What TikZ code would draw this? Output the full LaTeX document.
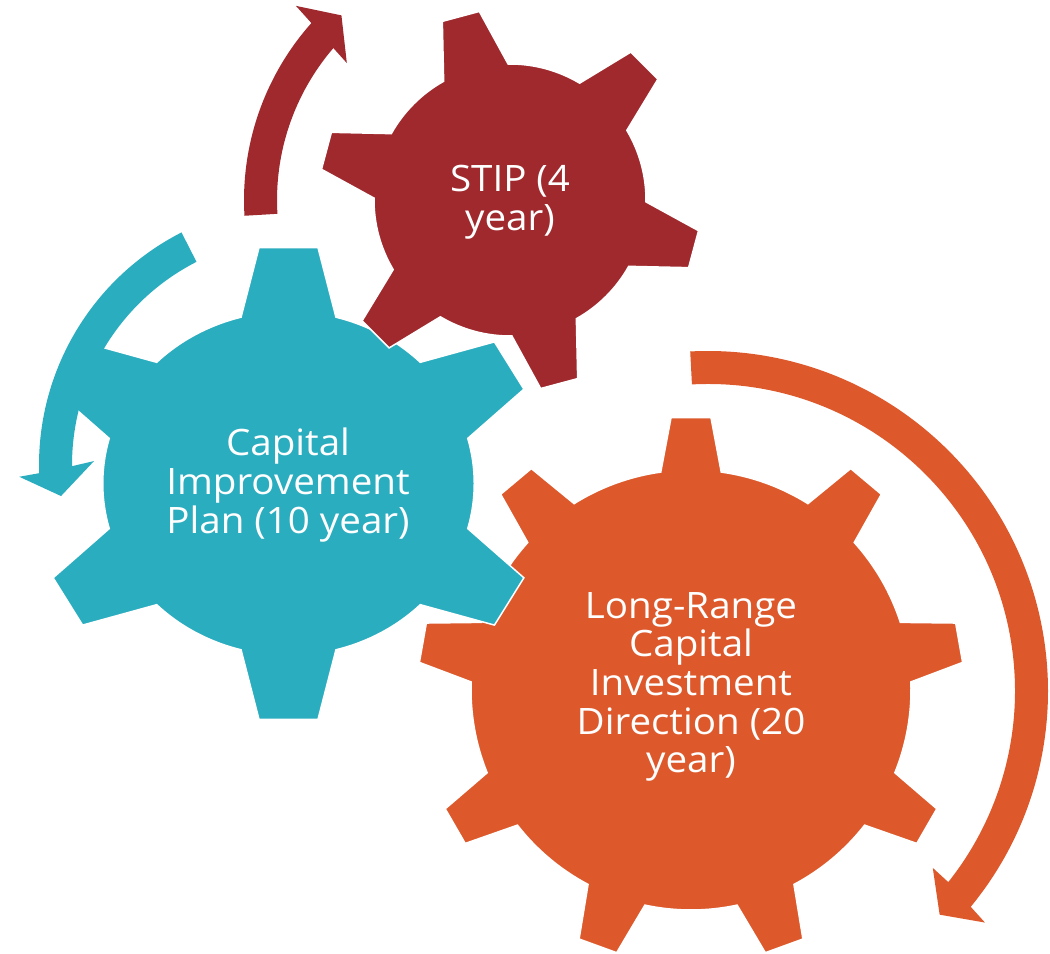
\documentclass[tikz,border=0pt]{standalone}
\usepackage{fontspec}
\setmainfont{Open Sans}[FakeStretch=1.06]
\definecolor{stipred}{HTML}{9F292D}
\definecolor{cipteal}{HTML}{2AADBF}
\definecolor{lrcorange}{HTML}{DD592C}
% gear outline: teeth, first tooth angle, root radius, tip radius, half angle at root, half angle at tip
\newcommand{\gearpath}[6]{%
  ({#2-#5}:#3) foreach \k in {1,...,#1} {
    -- ({#2+(\k-1)*360/#1-#5}:#3) -- ({#2+(\k-1)*360/#1-#6}:#4)
    -- ({#2+(\k-1)*360/#1+#6}:#4) -- ({#2+(\k-1)*360/#1+#5}:#3)
    arc[start angle={#2+(\k-1)*360/#1+#5}, end angle={#2+\k*360/#1-#5}, radius=#3]
  } -- cycle}
\tikzset{
  gear/.style={draw=white, line width=0.85pt},
  gearlabel/.style={text=white, align=center, font=\fontsize{20.7}{22}\selectfont}
}
\begin{document}
\begin{tikzpicture}[x=0.02cm, y=0.02cm]
    \useasboundingbox (0,0) rectangle (1050,953);

    \coordinate (lrchub) at (691,263);
    \coordinate (lrcturn) at (708,262);
    \coordinate (ciphub) at (288.5,469.5);
    \coordinate (cipturn) at (300,488);
    \coordinate (stiphub) at (510,753);

    % long-range gear and its arrow
    \fill[lrcorange, gear, shift={(lrchub)}] \gearpath{9}{10}{220}{273}{7.9}{4.2};
    \fill[lrcorange, shift={(lrcturn)}] (93:307) arc[start angle=93, end angle=-38.5, radius=307]
        -- (-38.2:286) -- (-44:322) -- (-39.9:361) -- (-39.4:340)
        arc[start angle=-39.4, end angle=93, radius=340] -- cycle;

    % capital improvement gear and its arrow
    \fill[cipteal, gear, shift={(ciphub)}, xscale=1.08] \gearpath{6}{30}{172}{237.5}{14.8}{6.6};
    \fill[cipteal, shift={(cipturn)}] (117:228) arc[start angle=117, end angle=180.3, radius=228]
        -- (178.9:206) -- (187.4:241) -- (182.4:281) -- (181.8:261)
        arc[start angle=181.8, end angle=117, radius=261] -- cycle;

    % stip gear and its arrow
    \fill[stipred, gear, shift={(stiphub)}] \gearpath{6}{45}{136}{191}{14.2}{5.75};
    \fill[stipred, shift={(stiphub)}] (183.4:233) arc[start angle=183.4, end angle=139.3, radius=233]
        -- (140:213) -- (132.4:250) -- (137.8:289) -- (138.3:266)
        arc[start angle=138.3, end angle=183.4, radius=266] -- cycle;

    \node (stip) [gearlabel] at (510,751) {STIP (4\\year)};
    \node (cip) [gearlabel] at (288,468) {Capital\\Improvement\\Plan (10 year)};
    \node (lrc) [gearlabel] at (691,266) {Long-Range\\Capital\\Investment\\Direction (20\\year)};
\end{tikzpicture}
\end{document}
